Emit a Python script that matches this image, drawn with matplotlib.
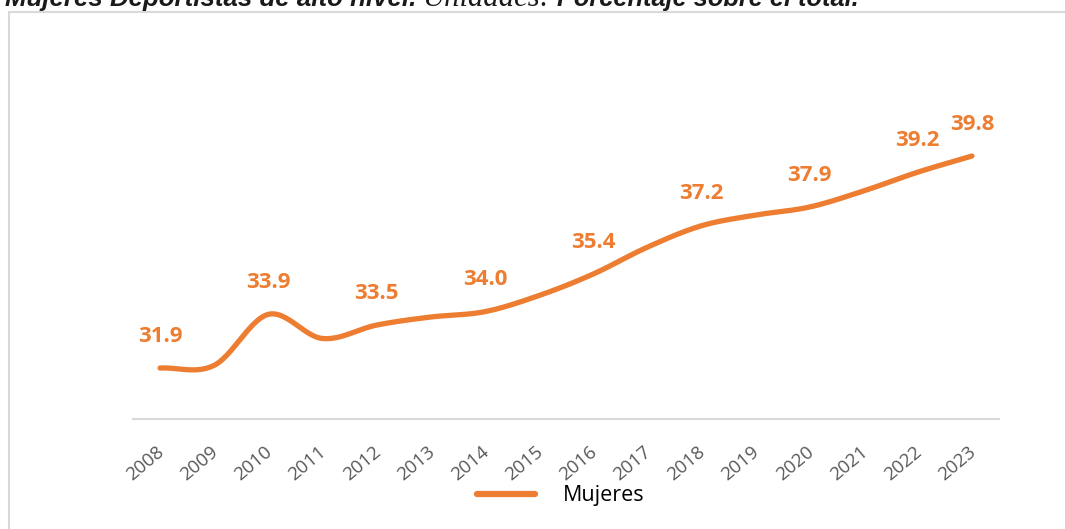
import numpy as np
import matplotlib
matplotlib.use("Agg")
import matplotlib.pyplot as plt
import matplotlib.transforms as mtransforms
from matplotlib.patches import Rectangle
from matplotlib.lines import Line2D

years = [2008, 2009, 2010, 2011, 2012, 2013, 2014, 2015,
         2016, 2017, 2018, 2019, 2020, 2021, 2022, 2023]
mujeres = [31.9, 32.0, 33.9, 33.0, 33.5, 33.8, 34.0, 34.6,
           35.4, 36.4, 37.2, 37.6, 37.9, 38.5, 39.2, 39.8]
labelled_years = [2008, 2010, 2012, 2014, 2016, 2018, 2020, 2022, 2023]
series_name = "Mujeres"
title_parts = ["Mujeres Deportistas de alto nivel.", "Unidades:", "Porcentaje sobre el total."]

ORANGE = "#ED7D31"
W, H = 1065, 529
fig = plt.figure(figsize=(W / 100, H / 100), dpi=100)
renderer = fig.canvas.get_renderer()

# outer chart frame
fig.patches.append(Rectangle((8.5 / W, -0.1), 1.2, 1 - 11.5 / H + 0.1,
                             transform=fig.transFigure, fill=False,
                             edgecolor="#D9D9D9", linewidth=1.5))

# title, cut off at the top edge as in the reference
spans = [(5, 418), (422, 550), (557, 860)]
styles = [dict(family="Liberation Sans", fontweight="bold", fontstyle="italic"),
          dict(family="Liberation Serif", fontstyle="italic"),
          dict(family="Liberation Sans", fontweight="bold", fontstyle="italic")]
for txt, (x0, x1), st in zip(title_parts, spans, styles):
    t = fig.text(x0 / W, 1 - 6 / H, txt, fontsize=10, color="#1a1a1a",
                 ha="left", va="baseline", **st)
    w = t.get_window_extent(renderer).width
    t.set_fontsize(10 * (x1 - x0) / w)

ax = fig.add_axes([133 / W, 1 - 419 / H, (999 - 133) / W, (419 - 97) / H])
x = np.arange(len(years))

# smoothed (Catmull-Rom) rendering of the line, as in Excel's smoothed line
def catmull(xs, ys, n=30):
    xs = np.asarray(xs, float); ys = np.asarray(ys, float)
    px = np.concatenate([[2 * xs[0] - xs[1]], xs, [2 * xs[-1] - xs[-2]]])
    py = np.concatenate([[2 * ys[0] - ys[1]], ys, [2 * ys[-1] - ys[-2]]])
    ox, oy = [], []
    t = np.linspace(0, 1, n, endpoint=False)
    for i in range(1, len(px) - 2):
        for arr, out in ((px, ox), (py, oy)):
            p0, p1, p2, p3 = arr[i - 1], arr[i], arr[i + 1], arr[i + 2]
            out.extend(0.5 * ((2 * p1) + (-p0 + p2) * t +
                              (2 * p0 - 5 * p1 + 4 * p2 - p3) * t ** 2 +
                              (-p0 + 3 * p1 - 3 * p2 + p3) * t ** 3))
    ox.append(xs[-1]); oy.append(ys[-1])
    return np.array(ox), np.array(oy)

sx, sy = catmull(x, mujeres)
ax.plot(sx, sy, color=ORANGE, linewidth=3.8, solid_capstyle="round")

for xi, yr, v in zip(x, years, mujeres):
    if yr in labelled_years:
        ax.annotate(f"{v:.1f}", (xi, v), xytext=(0, 23), textcoords="offset points",
                    ha="center", va="center", color=ORANGE, fontsize=16,
                    fontweight="bold", family="Open Sans")

ax.set_xlim(-0.5, len(years) - 0.5)
ax.set_ylim(30, 42)
for s in ["top", "right", "left"]:
    ax.spines[s].set_visible(False)
ax.spines["bottom"].set_color("#D9D9D9")
ax.spines["bottom"].set_linewidth(1.5)
ax.set_yticks([])
ax.set_xticks(x)
ax.set_xticklabels([str(y) for y in years], rotation=40, ha="right",
                   va="top", rotation_mode="anchor", color="#595959",
                   fontsize=13.5, family="Open Sans")
ax.tick_params(axis="x", length=0, pad=17)
shift = mtransforms.ScaledTranslation(-4 / 100, 0, fig.dpi_scale_trans)
for lbl in ax.get_xticklabels():
    lbl.set_transform(lbl.get_transform() + shift)

handle = Line2D([], [], color=ORANGE, linewidth=4.5, solid_capstyle="round")
fig.legend([handle], [series_name], loc="center", bbox_to_anchor=(561 / W, 1 - 496 / H),
           frameon=False, prop={"family": "Open Sans", "size": 15.5},
           handlelength=2.7, handletextpad=1.3, borderpad=0, borderaxespad=0)

fig.savefig("out.png", dpi=100)
